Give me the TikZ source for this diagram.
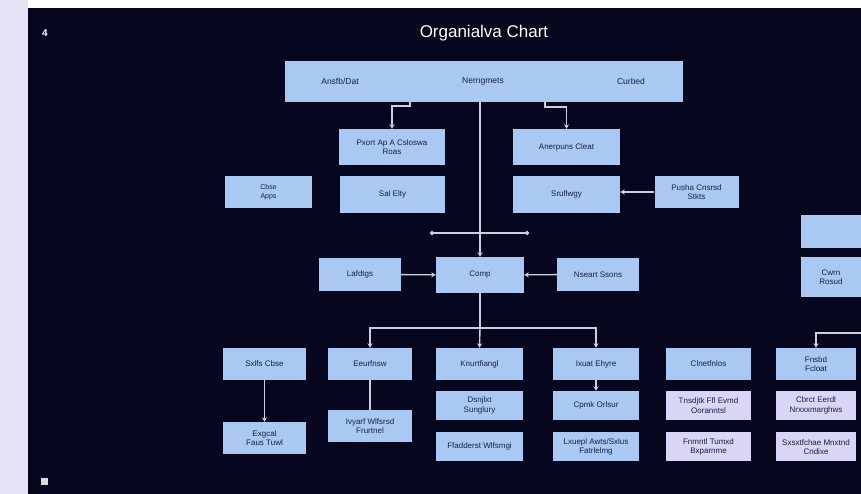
\documentclass[tikz,border=0pt]{standalone}
\usepackage{fontspec}
\setmainfont{Liberation Sans}
\usetikzlibrary{arrows.meta}
\usetikzlibrary{positioning}
\definecolor{navy}{HTML}{06061F}
\definecolor{boxblue}{HTML}{A9C9F3}
\definecolor{boxlav}{HTML}{D9D5F4}
\definecolor{linegray}{HTML}{CDD0DC}
\definecolor{boxtext}{HTML}{142048}
\definecolor{sidestrip}{HTML}{E4E4F6}

\begin{document}
\begin{tikzpicture}[x=1pt, y=-1pt,
	box/.style={fill=boxblue, text=boxtext, font=\fontsize{8}{9.5}\selectfont, align=center, inner sep=1pt, minimum height=32pt},
	lbox/.style={box, fill=boxlav},
	wire/.style={draw=linegray, line width=1.4pt},
	link/.style={wire, -{Stealth[length=4.5pt, width=5pt]}},
	dotlink/.style={wire, {Circle[length=4pt]}-{Circle[length=4pt]}}]
	\useasboundingbox (0,0) rectangle (861,494);
	\fill[sidestrip] (0,0) rectangle (28,494);
	\fill[white] (28,0) rectangle (861,8);
	\fill[navy] (28,8) rectangle (861,494);

	\node[text=white, font=\bfseries\fontsize{10}{11}\selectfont](mark) at (45,33){4};
	\node[fill=white!85!navy, minimum size=7pt, inner sep=0pt](corner) at (44,481){};
	\node[text=white, font=\fontsize{17}{20}\selectfont](title) at (484,33){Organialva Chart};

	% top bar
	\node[box, minimum width=398pt, minimum height=41pt](bar) at (484,81.5){};
	\node[text=boxtext, font=\fontsize{8.5}{10}\selectfont](b_left) at (340,81){Ansfb/Dat};
	\node[text=boxtext, font=\fontsize{8.5}{10}\selectfont](b_mid) at (483,81){Nerngmets};
	\node[text=boxtext, font=\fontsize{8.5}{10}\selectfont](b_right) at (631,81){Curbed};

	\node[box, minimum width=106pt, minimum height=36pt](pxort) at (392,147){Pxort Ap A Csloswa\\Roas};
	\node[box, minimum width=107pt, minimum height=36pt](anerp) at (566.5,147){Anerpuns Cleat};

	\node[box, minimum width=87pt, font=\fontsize{7}{8.5}\selectfont](cbse) at (268.5,192){Cbse\\Apps};
	\node[box, minimum width=105pt, minimum height=37pt](salelty) at (392.5,194.5){Sal Elty};
	\node[box, minimum width=107pt, minimum height=37pt](sruf) at (566.5,194.5){Sruflwgy};
	\node[box, minimum width=84pt](pusha) at (696.5,192){Pusha Cnsrsd\\Stkts};

	\coordinate(ltap) at (410,102);
	\coordinate(rtap) at (545,102);
	\draw[link] (ltap) -- ++(0,4) -| (pxort.north);
	\draw[link] (rtap) -- ++(0,5) -| (anerp.north);
	\draw[link] (pusha.west) -- (pusha.west -| sruf.east);

	% middle
	\node[box, minimum width=88pt, minimum height=36pt](comp) at (480,275){Comp};
	\node[box, minimum width=82pt, minimum height=33pt](lafd) at (360,274.5){Lafdtgs};
	\node[box, minimum width=82pt, minimum height=33pt](nseart) at (598,274.5){Nseart Ssons};

	\draw[link] (bar.south -| comp.north) -- (comp.north);
	\coordinate(t_l) at (430,233);
	\coordinate(t_r) at (529,233);
	\draw[dotlink] (t_l) -- (t_r);
	\draw[link] (lafd) -- (comp);
	\draw[link] (nseart) -- (comp);

	% lower rows
	\node[box, minimum width=83pt](sxlfs) at (264.5,364){Sxlfs Cbse};
	\node[box, minimum width=84pt](eeurf) at (370,364){Eeurfnsw};
	\node[box, minimum width=87pt](knurt) at (479.5,364){Knurtfiangl};
	\node[box, minimum width=86pt](ixuat) at (596,364){Ixuat Ehyre};
	\node[box, minimum width=85pt](clnet) at (708.5,364){Clnetfnlos};
	\node[box, minimum width=80pt](fnsbd) at (816,364){Fnsbd\\Fcloat};

	\node[box, minimum width=83pt](exgcal) at (264.5,438){Exgcal\\Faus Tuwl};
	\node[box, minimum width=84pt](ivyarf) at (370,426){Ivyarf Wlfsrsd\\Frurtnel};
	\node[box, minimum width=87pt, minimum height=29pt](dsnj) at (479.5,405.5){Dsnjlxt\\Sunglury};
	\node[box, minimum width=87pt, minimum height=29pt, below=12pt of dsnj](ffadd){Ffadderst Wlfsmgi};
	\node[box, minimum width=86pt, minimum height=29pt](cpmk) at (596,405.5){Cpmk Orlsur};
	\node[box, minimum width=86pt, minimum height=29pt, below=12pt of cpmk](lxuepl){Lxuepl Awts/Sxlus\\Fatrlelmg};
	\node[lbox, minimum width=85pt, minimum height=29pt](tnsd) at (708.5,405.5){Tnsdjtk Ffl Evmd\\Ooranntsl};
	\node[lbox, minimum width=85pt, minimum height=29pt, below=12pt of tnsd](fnmntl){Fnmntl Tumxd\\Bxparnme};
	\node[lbox, minimum width=80pt, minimum height=29pt](cbrct) at (816,405.5){Cbrct Eerdl\\Nrxxxmarghws};
	\node[lbox, minimum width=80pt, minimum height=29pt, below=12pt of cbrct](sxsx){Sxsxtfchae Mnxtnd\\Cndixe};

	\coordinate(split) at (480,328);
	\draw[wire] (comp.south) -- (split);
	\draw[link] (split) -| (eeurf.north);
	\draw[link] (split) -| (ixuat.north);
	\draw[link] (split) -- (knurt.north);
	\draw[link] (sxlfs) -- (exgcal);
	\draw[wire] (eeurf) -- (ivyarf);
	\draw[link] (ixuat) -- (cpmk);

	% right edge
	\node[box, minimum width=60pt, minimum height=33pt](edge_a) at (831,231.5){};
	\node[box, minimum width=60pt, minimum height=40pt](edge_b) at (831,277){Cwrn\\Rosud};
	\coordinate(redge) at (861,333);
	\draw[link] (redge) -| (fnsbd.north);
\end{tikzpicture}
\end{document}
